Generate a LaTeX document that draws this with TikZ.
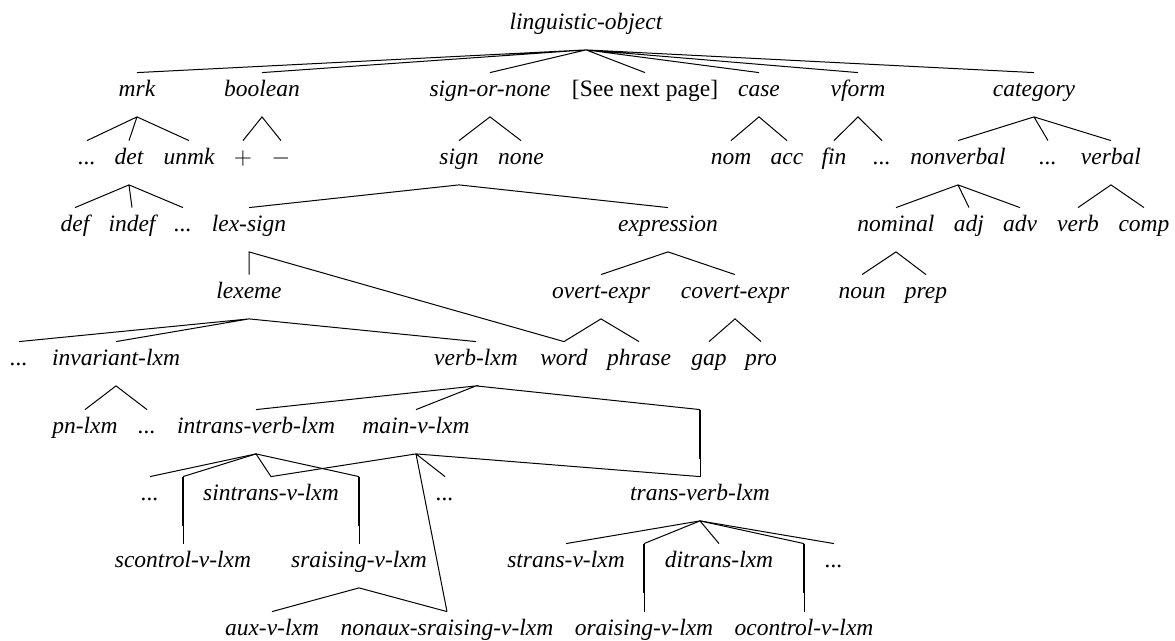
\documentclass[tikz,border=0pt]{standalone}
\usepackage{fontspec}
\setmainfont{Liberation Serif}
\usepackage{tikz}
\tikzstyle{typ} = [font=\fontsize{11.75}{14}\selectfont\itshape,
inner sep=0pt,
text height=12pt,
text depth=9.75pt,
anchor=base]
\tikzstyle{edge} = [line width=0.5pt]
\tikzstyle{long} = [line width=1.3pt]

\begin{document}
\begin{tikzpicture}[x=0.5pt, y=-0.5pt]
    \useasboundingbox (0,0) rectangle (1175,641);
    % top of the hierarchy
    \node[typ] (lo) at (586,30) {linguistic-object};
    \node[typ] (mrk) at (137,97) {mrk};
    \node[typ] (bool) at (262,97) {boolean};
    \node[typ] (son) at (490,97) {sign-or-none};
    \node[typ] (next) at (645,97) {\upshape [See next page]};
    \node[typ] (case) at (759,97) {case};
    \node[typ] (vform) at (858,97) {vform};
    \node[typ] (cat) at (1034,97) {category};

    \node[typ] (dA) at (87,165) {...};
    \node[typ] (det) at (129,165) {det};
    \node[typ] (unmk) at (189,165) {unmk};
    \node[typ] (plus) at (243,165) {$+$};
    \node[typ] (minus) at (281,165) {$-$};
    \node[typ] (sign) at (459,165) {sign};
    \node[typ] (none) at (521,165) {none};
    \node[typ] (nom) at (731,165) {nom};
    \node[typ] (acc) at (787,165) {acc};
    \node[typ] (fin) at (834,165) {fin};
    \node[typ] (dB) at (882,165) {...};
    \node[typ] (nonv) at (958,165) {nonverbal};
    \node[typ] (dC) at (1048,165) {...};
    \node[typ] (verbal) at (1111,165) {verbal};

    \node[typ] (def) at (75,232) {def};
    \node[typ] (indef) at (132,232) {indef};
    \node[typ] (dD) at (183,232) {...};
    \node[typ] (lexs) at (249,232) {lex-sign};
    \node[typ] (expr) at (668,232) {expression};
    \node[typ] (nomi) at (896,232) {nominal};
    \node[typ] (adj) at (969,232) {adj};
    \node[typ] (adv) at (1020,232) {adv};
    \node[typ] (verb) at (1078,232) {verb};
    \node[typ] (comp) at (1144,232) {comp};

    \node[typ] (lexeme) at (249,299) {lexeme};
    \node[typ] (overt) at (601,299) {overt-expr};
    \node[typ] (covert) at (735,299) {covert-expr};
    \node[typ] (noun) at (862,299) {noun};
    \node[typ] (prep) at (926,299) {prep};

    \node[typ] (dE) at (19,366) {...};
    \node[typ] (invlxm) at (116,366) {invariant-lxm};
    \node[typ] (verblxm) at (476,366) {verb-lxm};
    \node[typ] (word) at (564,366) {word};
    \node[typ] (phrase) at (639,366) {phrase};
    \node[typ] (gap) at (709,366) {gap};
    \node[typ] (pro) at (761,366) {pro};

    % verb lexemes
    \node[typ] (pn) at (85,434) {pn-lxm};
    \node[typ] (dF) at (147,434) {...};
    \node[typ] (intrans) at (256,434) {intrans-verb-lxm};
    \node[typ] (mainv) at (416,434) {main-v-lxm};

    \node[typ] (dG) at (150,501) {...};
    \node[typ] (sintrans) at (271,501) {sintrans-v-lxm};
    \node[typ] (dH) at (445,501) {...};
    \node[typ] (transv) at (700,501) {trans-verb-lxm};

    \node[typ] (scontrol) at (183,568) {scontrol-v-lxm};
    \node[typ] (sraising) at (359,568) {sraising-v-lxm};
    \node[typ] (strans) at (566,568) {strans-v-lxm};
    \node[typ] (ditrans) at (719,568) {ditrans-lxm};
    \node[typ] (dI) at (834,568) {...};

    \node[typ] (aux) at (272,636) {aux-v-lxm};
    \node[typ] (nonaux) at (447,636) {nonaux-sraising-v-lxm};
    \node[typ] (oraising) at (644,636) {oraising-v-lxm};
    \node[typ] (ocontrol) at (804,636) {ocontrol-v-lxm};

    % branches
    \draw[edge] (lo.south) -- (mrk.north) (lo.south) -- (bool.north) (lo.south) -- (son.north)
        (lo.south) -- (next.north) (lo.south) -- (case.north) (lo.south) -- (vform.north)
        (lo.south) -- (cat.north);
    \draw[edge] (dA.north) -- (mrk.south) -- (unmk.north) (mrk.south) -- (det.north);
    \draw[edge] (plus.north) -- (bool.south) -- (minus.north);
    \draw[edge] (sign.north) -- (son.south) -- (none.north);
    \draw[edge] (nom.north) -- (case.south) -- (acc.north);
    \draw[edge] (fin.north) -- (vform.south) -- (dB.north);
    \draw[edge] (nonv.north) -- (cat.south) -- (verbal.north) (cat.south) -- (dC.north);
    \draw[edge] (def.north) -- (det.south) -- (dD.north) (det.south) -- (indef.north);
    \draw[edge] (lexs.north) -- (sign.south) -- (expr.north);
    \draw[edge] (nomi.north) -- (nonv.south) -- (adv.north) (nonv.south) -- (adj.north);
    \draw[edge] (verb.north) -- (verbal.south) -- (comp.north);
    \draw[edge] (lexeme.north) -- (lexs.south) -- (word.north);
    \draw[edge] (overt.north) -- (expr.south) -- (covert.north);
    \draw[edge] (noun.north) -- (nomi.south) -- (prep.north);
    \draw[edge] (dE.north) -- (lexeme.south) -- (verblxm.north) (lexeme.south) -- (invlxm.north);
    \draw[edge] (word.north) -- (overt.south) -- (phrase.north);
    \draw[edge] (gap.north) -- (covert.south) -- (pro.north);
    \draw[edge] (pn.north) -- (invlxm.south) -- (dF.north);
    \draw[edge] (intrans.north) -- (verblxm.south) -- (mainv.north);
    \draw[edge] (verblxm.south) -- (transv.north |- mainv.north) coordinate (tvtop);
    \draw[long] (tvtop) -- ++(0,49) coordinate (tvmid);
    \draw[edge] (tvmid) -- (transv.north);

    \draw[edge] (dG.north) -- (intrans.south) -- (sintrans.north);
    \draw[edge] (intrans.south) -- (scontrol.north |- sintrans.north) coordinate (sctop);
    \draw[edge] (intrans.south) -- (sraising.north |- sintrans.north) coordinate (srtop);
    \draw[long] (sctop) -- ++(0,49) coordinate (scmid);
    \draw[long] (srtop) -- ++(0,49) coordinate (srmid);
    \draw[edge] (scmid) -- (scontrol.north) (srmid) -- (sraising.north);

    \draw[edge] (sintrans.north) -- (mainv.south) -- (transv.north) (mainv.south) -- (dH.north)
        (mainv.south) -- (nonaux.north);
    \draw[edge] (aux.north) -- (sraising.south) -- (nonaux.north);

    \draw[edge] (strans.north) -- (transv.south) -- (ditrans.north) (transv.south) -- (dI.north);
    \draw[edge] (transv.south) -- (oraising.north |- ditrans.north) coordinate (ortop);
    \draw[edge] (transv.south) -- (ocontrol.north |- ditrans.north) coordinate (octop);
    \draw[long] (ortop) -- ++(0,49) coordinate (ormid);
    \draw[long] (octop) -- ++(0,49) coordinate (ocmid);
    \draw[edge] (ormid) -- (oraising.north) (ocmid) -- (ocontrol.north);
\end{tikzpicture}
\end{document}
